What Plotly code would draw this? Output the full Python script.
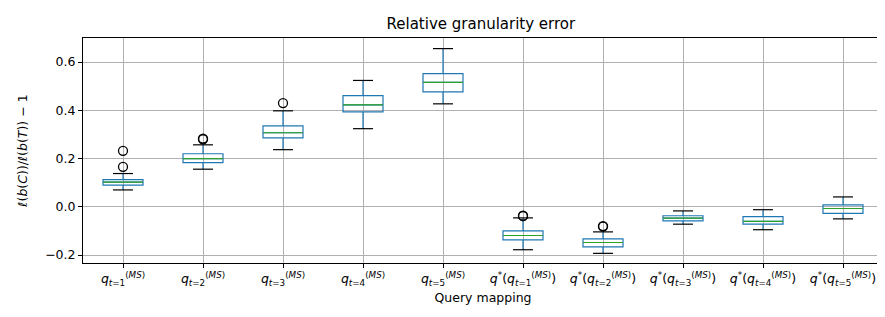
import plotly.graph_objects as go

# ---- data ----
labels = [
    "<i>q</i><sub><i>t</i>=1</sub><sup>(<i>MS</i>)</sup>",
    "<i>q</i><sub><i>t</i>=2</sub><sup>(<i>MS</i>)</sup>",
    "<i>q</i><sub><i>t</i>=3</sub><sup>(<i>MS</i>)</sup>",
    "<i>q</i><sub><i>t</i>=4</sub><sup>(<i>MS</i>)</sup>",
    "<i>q</i><sub><i>t</i>=5</sub><sup>(<i>MS</i>)</sup>",
    "<i>q</i><sup>*</sup>(<i>q</i><sub><i>t</i>=1</sub><sup>(<i>MS</i>)</sup>)",
    "<i>q</i><sup>*</sup>(<i>q</i><sub><i>t</i>=2</sub><sup>(<i>MS</i>)</sup>)",
    "<i>q</i><sup>*</sup>(<i>q</i><sub><i>t</i>=3</sub><sup>(<i>MS</i>)</sup>)",
    "<i>q</i><sup>*</sup>(<i>q</i><sub><i>t</i>=4</sub><sup>(<i>MS</i>)</sup>)",
    "<i>q</i><sup>*</sup>(<i>q</i><sub><i>t</i>=5</sub><sup>(<i>MS</i>)</sup>)",
]
positions = [1, 2, 3, 4, 5, 6, 7, 8, 9, 10]
lower_whisker = [0.070, 0.156, 0.237, 0.324, 0.427, -0.178, -0.193, -0.072, -0.095, -0.050]
q1_vals       = [0.090, 0.183, 0.286, 0.394, 0.477, -0.137, -0.166, -0.058, -0.072, -0.027]
median_vals   = [0.102, 0.200, 0.307, 0.423, 0.516, -0.119, -0.148, -0.047, -0.060, -0.007]
q3_vals       = [0.113, 0.220, 0.336, 0.461, 0.552, -0.100, -0.133, -0.037, -0.041, 0.008]
upper_whisker = [0.138, 0.257, 0.398, 0.524, 0.656, -0.046, -0.104, -0.017, -0.012, 0.041]
outlier_pos   = [1, 1, 2, 2, 3, 6, 6, 7, 7]
outlier_vals  = [0.166, 0.232, 0.280, 0.283, 0.430, -0.037, -0.039, -0.080, -0.082]

title_text = "Relative granularity error"
x_title = "Query mapping"
y_title = "<i>ℓ</i>(<i>b</i>(<i>C</i>))/<i>ℓ</i>(<i>b</i>(<i>T</i>)) − 1"

BOX_W = 0.5
CAP_W = 0.25
BLUE = "#1f77b4"
GREEN = "#2ca02c"

fig = go.Figure()

fig.add_trace(go.Box(
    x=positions, q1=q1_vals, median=median_vals, q3=q3_vals,
    lowerfence=lower_whisker, upperfence=upper_whisker,
    width=BOX_W, whiskerwidth=0, boxpoints=False,
    line=dict(color=BLUE, width=1.2), fillcolor="rgba(0,0,0,0)",
    hoverinfo="skip", showlegend=False,
))

# medians (green)
mx, my = [], []
for p, m in zip(positions, median_vals):
    mx += [p - BOX_W / 2, p + BOX_W / 2, None]
    my += [m, m, None]
fig.add_trace(go.Scatter(x=mx, y=my, mode="lines",
                         line=dict(color=GREEN, width=1.2),
                         hoverinfo="skip", showlegend=False))

# caps (black)
cx, cy = [], []
for p, lo, hi in zip(positions, lower_whisker, upper_whisker):
    cx += [p - CAP_W / 2, p + CAP_W / 2, None, p - CAP_W / 2, p + CAP_W / 2, None]
    cy += [lo, lo, None, hi, hi, None]
fig.add_trace(go.Scatter(x=cx, y=cy, mode="lines",
                         line=dict(color="black", width=1.2),
                         hoverinfo="skip", showlegend=False))

# outliers
fig.add_trace(go.Scatter(x=outlier_pos, y=outlier_vals, mode="markers",
                         marker=dict(symbol="circle-open", size=9,
                                     color="black", line=dict(width=1.3)),
                         hoverinfo="skip", showlegend=False))

axis_common = dict(
    showline=True, linecolor="black", linewidth=1, mirror=True,
    showgrid=True, gridcolor="#b0b0b0", gridwidth=1,
    ticks="outside", ticklen=4, tickcolor="black",
    zeroline=False,
    tickfont=dict(family="DejaVu Sans", size=12.5, color="black"),
)

fig.update_layout(
    width=885, height=317,
    margin=dict(l=75, r=10, t=30, b=62),
    paper_bgcolor="white", plot_bgcolor="white",
    font=dict(family="DejaVu Sans", color="black", size=12.5),
    title=dict(text=title_text, x=0.5343, xanchor="center", y=0.95, yanchor="middle",
               font=dict(size=15, family="DejaVu Sans")),
    xaxis=dict(range=[0.5, 10.5], tickmode="array", tickvals=positions,
               ticktext=labels,
               title=dict(text=x_title, standoff=6,
                          font=dict(size=12.5, family="DejaVu Sans")),
               **axis_common),
    yaxis=dict(range=[-0.233, 0.70], tickmode="array",
               tickvals=[-0.2, 0.0, 0.2, 0.4, 0.6],
               ticktext=["−0.2", "0.0", "0.2", "0.4", "0.6"],
               title=dict(text=y_title, standoff=14,
                          font=dict(size=12.5, family="DejaVu Sans")),
               **axis_common),
)

fig.write_html("out.html")
